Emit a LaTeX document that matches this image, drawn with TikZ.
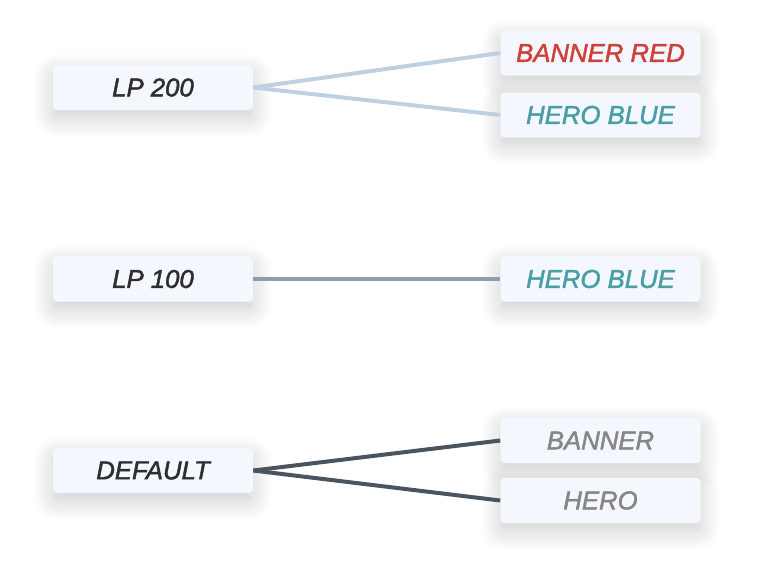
\documentclass[tikz,border=0pt]{standalone}
\usepackage{fontspec}
\setmainfont{Liberation Sans}[ItalicFeatures={FakeBold=1.8}]
\usepackage{tikz}
\usetikzlibrary{shadows.blur}

\definecolor{boxfill}{HTML}{F4F8FE}
\definecolor{txtdark}{HTML}{2E2E30}
\definecolor{txtred}{HTML}{D0403A}
\definecolor{txtteal}{HTML}{4A9FA6}
\definecolor{txtgray}{HTML}{868686}
\definecolor{linelight}{HTML}{BED0E1}
\definecolor{linemid}{HTML}{8B9DB0}
\definecolor{linedark}{HTML}{4A545E}

\begin{document}
\begin{tikzpicture}[x=0.75pt,y=-0.75pt,
        tag/.style={fill=boxfill,rounded corners=3pt,minimum width=150pt,
            minimum height=33.75pt,inner sep=0pt,
            font=\fontsize{19.3}{21}\selectfont\itshape,
            blur shadow={shadow xshift=0pt,shadow yshift=-6pt,
                shadow blur radius=15pt,shadow opacity=20,
                shadow blur steps=12}},
        link/.style={line width=3pt}]
        \useasboundingbox (0,0) rectangle (759,562);

        % left column
        \node[tag,text=txtdark] (lp200) at (153,87.5) {LP 200};
        \node[tag,text=txtdark] (lp100) at (153,279) {LP 100};
        \node[tag,text=txtdark] (default) at (153,470.5) {DEFAULT};

        % right column
        \node[tag,text=txtred] (bannerred) at (600.5,53) {BANNER RED};
        \node[tag,text=txtteal] (heroblue) at (600.5,115) {HERO BLUE};
        \node[tag,text=txtteal] (heroblue2) at (600.5,279) {HERO BLUE};
        \node[tag,text=txtgray] (banner) at (600.5,440.5) {BANNER};
        \node[tag,text=txtgray] (hero) at (600.5,500.5) {HERO};

        \draw[link,linelight] (lp200.east) -- (bannerred.west);
        \draw[link,linelight] (lp200.east) -- (heroblue.west);
        \draw[link,linemid] (lp100.east) -- (heroblue2.west);
        \draw[link,linedark] (default.east) -- (banner.west);
        \draw[link,linedark] (default.east) -- (hero.west);
    \end{tikzpicture}
\end{document}
